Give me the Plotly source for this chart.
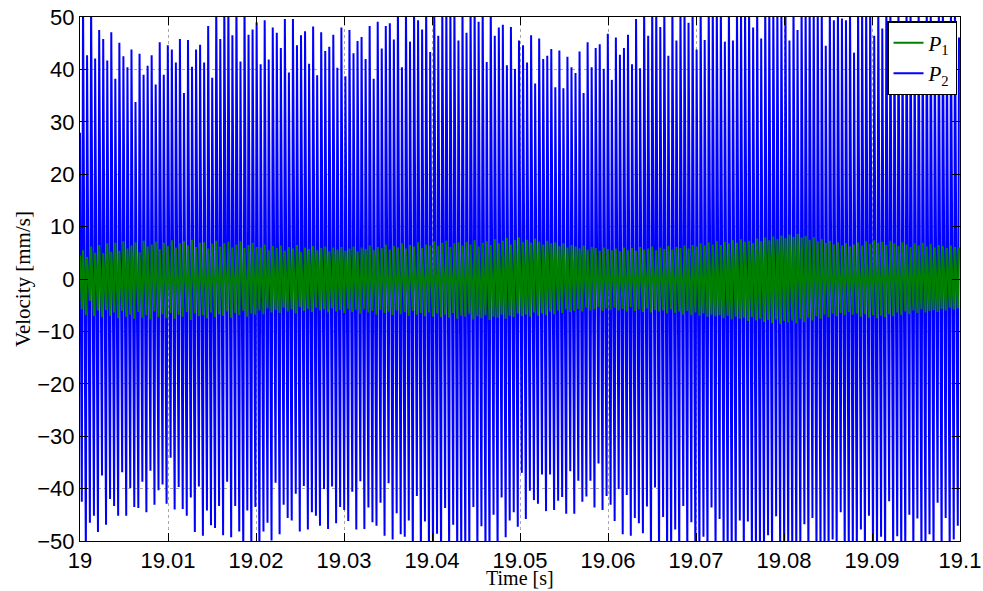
import numpy as np
import plotly.graph_objects as go

# Time window and per-cycle extremes of the two velocity records [mm/s]
T_START = 19.0
T_END = 19.1

# P2: successive positive peaks (values beyond +50 run off the axis)
p2_peaks = [
    53, 42.7, 53, 42.1, 47.5, 45.8, 41.7, 47.1, 38.2, 45.1,
    42.5, 40.4, 43.8, 33.8, 43.0, 39.0, 40.7, 42.7, 37.1, 45.2,
    39.0, 44.6, 43.8, 41.3, 45.8, 35.5, 45.6, 40.5, 43.8, 44.7,
    41.3, 48.3, 38.4, 53, 45.8, 53, 53, 46.5, 53, 41.5,
    53, 46.6, 47.6, 49.0, 41.0, 49.4, 41.9, 48.0, 47.0, 44.1,
    49.6, 39.4, 49.6, 44.6, 46.5, 47.3, 41.1, 48.2, 38.9, 47.1,
    43.5, 44.3, 46.6, 40.3, 48.0, 38.7, 47.5, 43.1, 45.4, 46.2,
    42.0, 48.3, 38.2, 49.1, 44.0, 48.3, 48.8, 45.7, 53, 40.4,
    53, 45.3, 53, 49.4, 47.6, 53, 43.3, 53, 46.4, 53,
    53, 53, 53, 45.5, 53, 47.0, 53, 53, 49.1, 53,
    41.4, 53, 46.4, 48.0, 48.5, 40.8, 48.1, 40.1, 45.5, 44.6,
    41.3, 46.5, 37.3, 45.9, 42.0, 42.6, 43.9, 36.6, 43.6, 36.4,
    42.4, 40.4, 39.3, 43.4, 35.5, 45.2, 40.4, 44.1, 44.8, 40.1,
    46.8, 38.0, 46.1, 42.8, 44.1, 46.6, 41.0, 49.6, 40.2, 53,
    46.4, 53, 53, 48.1, 53, 42.6, 53, 45.5, 53, 53,
    48.9, 53, 43.8, 53, 45.6, 53, 53, 53, 53, 45.3,
    53, 45.5, 53, 53, 53, 53, 48.0, 53, 45.9, 53,
    53, 53, 53, 53, 53, 45.5, 53, 47.5, 53, 53,
    53, 53, 53, 53, 44.5, 53, 49.4, 53, 49.7, 49.4,
    53, 43.2, 53, 53, 53, 53, 46.4, 53, 47.8, 53,
    53, 48.0, 53, 47.0, 53, 53, 45.0, 53, 49.0, 53,
    53, 46.0, 53, 53, 48.0, 53, 53, 46.1,
]

# P2: successive negative troughs (values beyond -50 run off the axis)
p2_troughs = [
    -42.5, -53, -46.5, -45.2, -48.3, -37.5, -46.9, -42.0, -43.3, -45.2,
    -36.9, -45.2, -39.9, -43.5, -43.7, -38.7, -44.5, -36.6, -43.1, -40.3,
    -39.2, -42.9, -34.1, -44.0, -39.7, -43.9, -45.2, -41.7, -48.3, -39.6,
    -49.0, -44.2, -47.0, -47.5, -43.3, -48.9, -38.7, -49.3, -43.3, -48.2,
    -53, -44.2, -53, -43.5, -53, -48.2, -46.5, -49.9, -38.9, -48.7,
    -43.1, -45.6, -46.1, -41.0, -48.2, -39.5, -47.8, -44.5, -45.2, -47.1,
    -40.1, -47.7, -39.6, -46.6, -43.5, -44.1, -46.2, -40.6, -47.8, -38.6,
    -47.7, -43.6, -46.4, -47.1, -42.7, -49.0, -39.0, -49.7, -44.7, -48.7,
    -49.2, -46.1, -53, -41.4, -53, -46.3, -53, -53, -48.6, -53,
    -43.7, -53, -46.9, -53, -53, -53, -53, -43.5, -53, -47.2,
    -53, -53, -45.0, -53, -41.7, -49.3, -46.1, -44.5, -47.3, -37.0,
    -45.8, -40.4, -42.2, -42.9, -37.3, -44.3, -37.3, -44.1, -42.3, -41.6,
    -44.8, -36.7, -44.8, -38.5, -42.5, -41.5, -38.5, -43.6, -35.2, -44.1,
    -41.4, -43.1, -46.2, -40.1, -48.7, -41.2, -49.0, -45.6, -46.6, -48.5,
    -43.4, -53, -39.8, -53, -45.4, -53, -53, -47.8, -53, -43.3,
    -53, -46.4, -53, -53, -49.2, -53, -43.6, -53, -45.8, -53,
    -53, -53, -53, -46.1, -53, -46.3, -53, -53, -53, -53,
    -48.9, -53, -45.3, -53, -53, -53, -53, -53, -53, -46.8,
    -53, -45.6, -53, -53, -53, -53, -49.7, -53, -44.5, -53,
    -53, -53, -53, -47.8, -53, -45.2, -53, -53, -49.2, -53,
    -42.4, -53, -49.1, -53, -53, -45.0, -53, -45.7, -53, -53,
    -48.7, -53, -42.7, -53, -45.6, -53, -49.7, -47.1,
]

# P1: successive positive peaks
p1_peaks = [
    5.5, 4.2, 6.2, 5.0, 6.5, 4.9, 6.8, 5.2, 6.9, 5.4, 7.2, 5.8, 6.4, 7.0, 5.1, 7.3, 6.2, 6.6, 7.1, 5.7, 6.9, 6.3,
    7.4, 6.0, 6.8, 7.2, 6.4, 7.5, 6.1, 6.9, 7.0, 5.8, 6.7, 7.3, 6.2, 6.8, 7.1, 6.0, 6.6, 7.2, 5.9, 6.5, 6.9, 6.1,
    6.0, 6.6, 5.5, 6.3, 5.9, 6.4, 5.4, 6.1, 5.8, 6.5, 5.2, 6.0, 5.7, 6.3, 5.5, 5.9, 6.2, 5.3, 6.0, 5.6, 6.1, 5.4,
    5.8, 6.2, 5.3, 6.0, 5.7, 6.4, 5.5, 6.1, 5.9, 6.6, 5.6, 6.3, 6.0, 6.8, 5.8, 6.5, 6.2, 7.0, 5.9, 6.6, 6.4, 7.2,
    6.3, 6.9, 7.3, 6.1, 6.8, 7.0, 6.4, 7.1, 6.6, 7.4, 6.2, 6.9, 7.2, 6.5, 7.6, 6.8, 7.3, 7.8, 6.6, 7.4, 7.9, 7.0,
    7.5, 6.9, 7.7, 7.1, 6.6, 7.3, 6.8, 7.0, 6.3, 6.8, 6.0, 6.5, 6.2, 5.8, 6.4, 5.6, 6.1, 5.9, 5.4, 6.0, 5.7, 5.5,
    5.8, 5.3, 6.0, 5.5, 5.9, 5.4, 6.1, 5.6, 5.8, 6.2, 5.5, 6.0, 5.7, 6.3, 5.6, 6.1, 5.9, 6.4, 5.8, 6.5, 6.2, 6.8,
    6.4, 7.0, 6.6, 7.2, 6.5, 7.1, 6.8, 7.4, 6.9, 7.6, 7.1, 7.3, 6.8, 7.7, 7.2, 7.9, 7.4, 8.1, 7.6, 8.3, 7.8, 8.5,
    8.0, 8.6, 7.9, 8.2, 7.5, 8.0, 7.2, 7.6, 6.9, 7.3, 6.6, 7.0, 6.4, 6.8, 6.2, 6.6, 7.0, 6.4, 7.2, 6.7, 7.4, 6.9,
    7.1, 6.5, 7.3, 6.8, 6.3, 7.0, 6.6, 6.1, 6.8, 6.4, 6.9, 6.2, 6.7, 6.0, 6.5, 6.3, 5.9, 6.4, 6.1, 6.0,
]

# P1: successive negative troughs
p1_troughs = [
    -5.8, -6.9, -4.2, -7.1, -6.0, -7.3, -5.9, -7.0, -6.4, -7.5, -6.1, -7.2, -6.8, -7.6, -6.3, -7.4, -6.9, -7.7, -6.2, -7.3, -6.7, -7.5,
    -6.5, -7.6, -6.8, -7.2, -6.3, -7.8, -6.6, -7.1, -6.9, -7.5, -6.4, -7.3, -6.7, -7.0, -6.2, -7.4, -6.5, -6.9, -6.1, -7.2, -6.6, -6.8,
    -6.0, -6.7, -5.6, -6.4, -5.9, -6.5, -5.5, -6.2, -5.8, -6.6, -5.4, -6.1, -5.7, -6.3, -5.5, -6.0, -5.8, -6.4, -5.6, -6.2, -5.9, -6.5,
    -5.7, -6.3, -5.9, -6.6, -5.8, -6.4, -6.1, -6.8, -5.9, -6.5, -6.2, -6.9, -6.0, -6.7, -6.3, -7.0, -6.1, -6.8, -6.5, -7.1, -6.4, -7.2,
    -6.6, -7.3, -6.8, -7.4, -6.5, -7.6, -7.0, -7.2, -6.7, -7.7, -7.1, -7.5, -6.9, -7.8, -7.2, -7.4, -6.8, -7.6, -7.0, -7.3, -6.6, -7.1,
    -6.8, -7.2, -6.4, -7.0, -6.6, -6.9, -6.2, -6.7, -6.0, -6.5, -5.8, -6.3, -6.1, -5.7, -6.2, -5.5, -6.0, -5.8, -5.4, -6.1, -5.6, -5.9,
    -5.5, -6.0, -5.7, -6.2, -5.4, -6.1, -5.8, -6.3, -5.6, -6.4, -5.9, -6.2, -6.0, -6.6, -5.8, -6.5, -6.2, -6.8, -6.1, -6.9, -6.4, -7.0,
    -6.6, -7.2, -6.8, -7.1, -6.9, -7.5, -7.0, -7.7, -7.2, -7.6, -7.4, -8.0, -7.3, -7.9, -7.6, -8.2, -7.8, -8.4, -7.7, -8.6, -8.0, -8.3,
    -7.9, -8.5, -7.6, -8.2, -7.4, -7.9, -7.1, -7.6, -6.8, -7.3, -6.6, -7.1, -6.5, -6.9, -6.3, -6.8, -6.6, -7.2, -6.7, -7.4, -6.9, -7.5,
    -7.0, -7.3, -6.7, -7.1, -6.4, -6.9, -6.2, -6.7, -6.0, -6.5, -5.8, -6.4, -6.1, -5.9, -6.3, -5.7, -6.0, -5.5, -5.8, -5.6,
]

# Values at the start of the window
p2_start = 27.9
p1_start = 4.5

x_ticks = [19.0, 19.01, 19.02, 19.03, 19.04, 19.05, 19.06, 19.07, 19.08, 19.09, 19.1]
x_tick_labels = ["19", "19.01", "19.02", "19.03", "19.04", "19.05", "19.06",
                 "19.07", "19.08", "19.09", "19.1"]
y_ticks = [-50, -40, -30, -20, -10, 0, 10, 20, 30, 40, 50]

SERIF = "Liberation Serif, Times New Roman"


def build_signal(start, troughs, peaks, t0, t1):
    """Interleave trough/peak pairs into a time series spanning the window."""
    n = len(peaks)
    period = (t1 - t0) / n
    phase = 0.3  # peak follows its trough by ~30 % of a cycle
    t = [t0]
    v = [start]
    for i in range(n):
        base = t0 + (i + 0.45) * period
        t.append(base)
        v.append(troughs[i])
        t.append(base + phase * period)
        v.append(peaks[i])
    return np.array(t), np.array(v)


t2, v2 = build_signal(p2_start, p2_troughs, p2_peaks, T_START, T_END)
t1, v1 = build_signal(p1_start, p1_troughs, p1_peaks, T_START, T_END)

fig = go.Figure()
fig.add_trace(go.Scatter(
    x=t2, y=v2, mode="lines", name="<i>P</i><sub>2</sub>",
    line=dict(color="#0000FF", width=2.0), legendrank=2,
))
fig.add_trace(go.Scatter(
    x=t1, y=v1, mode="lines", name="<i>P</i><sub>1</sub>",
    line=dict(color="#008000", width=2.0), legendrank=1,
))

axis_common = dict(
    showline=True, linecolor="black", linewidth=1, mirror="ticks",
    ticks="inside", ticklen=8, tickwidth=1, tickcolor="black",
    showgrid=True, gridcolor="#a8a8a8", griddash="dot", gridwidth=1,
    zeroline=False, automargin=False,
    tickfont=dict(family="Liberation Sans, Arial", size=22, color="black"),
)

fig.update_xaxes(range=[T_START, T_END], tickvals=x_ticks, ticktext=x_tick_labels,
                 **axis_common)
fig.update_yaxes(
    range=[-50, 50], tickvals=y_ticks,
    title=dict(text="Velocity [mm/s]", standoff=0,
               font=dict(family=SERIF, size=21, color="black")),
    **axis_common,
)

# x-axis title placed just beneath the tick labels
fig.add_annotation(
    text="Time [s]", xref="paper", yref="paper", x=0.5, y=-0.0706,
    xanchor="center", yanchor="middle", showarrow=False,
    font=dict(family=SERIF, size=20, color="black"),
)

fig.update_layout(
    width=983, height=591,
    margin=dict(l=80, r=23, t=17, b=50, autoexpand=False),
    paper_bgcolor="white", plot_bgcolor="white",
    showlegend=True,
    legend=dict(
        x=0.9966, y=0.992, xanchor="right", yanchor="top",
        bgcolor="white", bordercolor="black", borderwidth=1.5,
        font=dict(family=SERIF, size=21, color="black"),
        tracegroupgap=0, itemwidth=30,
    ),
)

fig.write_html("out.html")
